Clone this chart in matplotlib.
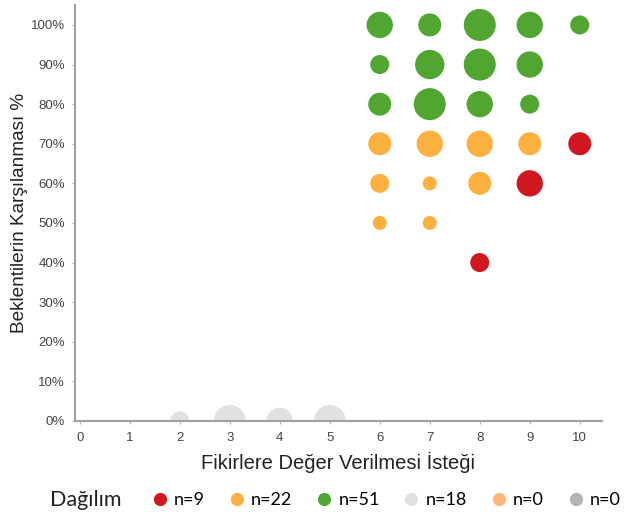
import matplotlib.pyplot as plt
from matplotlib.lines import Line2D
import matplotlib.ticker as mticker

# bubble data: x = Fikirlere Değer Verilmesi İsteği, y = Beklentilerin Karşılanması %, n = count
red_x = [10, 9, 8]
red_y = [70, 60, 40]
red_n = [3, 4, 2]

orange_x = [6, 7, 8, 9, 6, 7, 8, 6, 7]
orange_y = [70, 70, 70, 70, 60, 60, 60, 50, 50]
orange_n = [3, 4, 4, 3, 2, 1, 3, 1, 1]

green_x = [6, 7, 8, 9, 10, 6, 7, 8, 9, 6, 7, 8, 9]
green_y = [100, 100, 100, 100, 100, 90, 90, 90, 90, 80, 80, 80, 80]
green_n = [4, 3, 6, 4, 2, 2, 5, 6, 4, 3, 6, 4, 2]

gray_x = [2, 3, 4, 5]
gray_y = [0, 0, 0, 0]
gray_n = [2, 6, 4, 6]

legend_labels = ['n=9', 'n=22', 'n=51', 'n=18', 'n=0', 'n=0']
legend_colors = ['#d0161f', '#fcb040', '#50a630', '#e1e1e1', '#fdb77b', '#b3b3b3']

x_ticks = list(range(0, 11))
y_ticks = list(range(0, 101, 10))


def size(n):
	return [15.5 + 86 * v for v in n]


fig = plt.figure(figsize=(6.28, 5.14), dpi=100)
ax = fig.add_axes([0.119, 0.181, 0.84, 0.809])

series = [
	(gray_x, gray_y, gray_n, legend_colors[3]),
	(orange_x, orange_y, orange_n, legend_colors[1]),
	(green_x, green_y, green_n, legend_colors[2]),
	(red_x, red_y, red_n, legend_colors[0]),
]
for xs, ys, ns, col in series:
	ax.scatter(xs, [v / 100 for v in ys], s=size(ns), color=col, linewidths=0, zorder=2)

ax.set_xlim(-0.1, 10.45)
ax.set_ylim(0, 1.05)
ax.set_xticks(x_ticks)
ax.set_yticks([v / 100 for v in y_ticks])
ax.yaxis.set_major_formatter(mticker.FuncFormatter(lambda v, p: f'{round(v * 100)}%'))

for s in ['top', 'right']:
	ax.spines[s].set_visible(False)
for s in ['left', 'bottom']:
	ax.spines[s].set_color('#a0a0a0')
	ax.spines[s].set_linewidth(1.5)

ax.tick_params(axis='both', length=2, color='#b0b0b0', labelsize=9.5, labelcolor='#444444')
ax.tick_params(axis='x', pad=6)
ax.tick_params(axis='y', pad=5)
for lab in ax.get_xticklabels() + ax.get_yticklabels():
	lab.set_family('Liberation Sans')

ax.set_xlabel('Fikirlere Değer Verilmesi İsteği', family='Liberation Sans', fontsize=14.5, color='#222222', labelpad=6)
ax.set_ylabel('Beklentilerin Karşılanması %', family='Liberation Sans', fontsize=13.7, color='#222222', labelpad=2)

fig.text(50 / 628, 14 / 514, 'Dağılım', family='Lato', fontsize=15.5, color='#222222', va='center', ha='left')
handles = [Line2D([], [], linestyle='none', marker='o', markersize=9.5, markerfacecolor=c, markeredgewidth=0) for c in legend_colors]
fig.legend(handles, legend_labels, ncol=6, loc='center left', bbox_to_anchor=(129 / 628, 14 / 514),
	frameon=False, handletextpad=0.0, columnspacing=0.95, handlelength=1.6,
	prop={'family': 'Lato', 'size': 13})

plt.savefig('out.png', dpi=100)
